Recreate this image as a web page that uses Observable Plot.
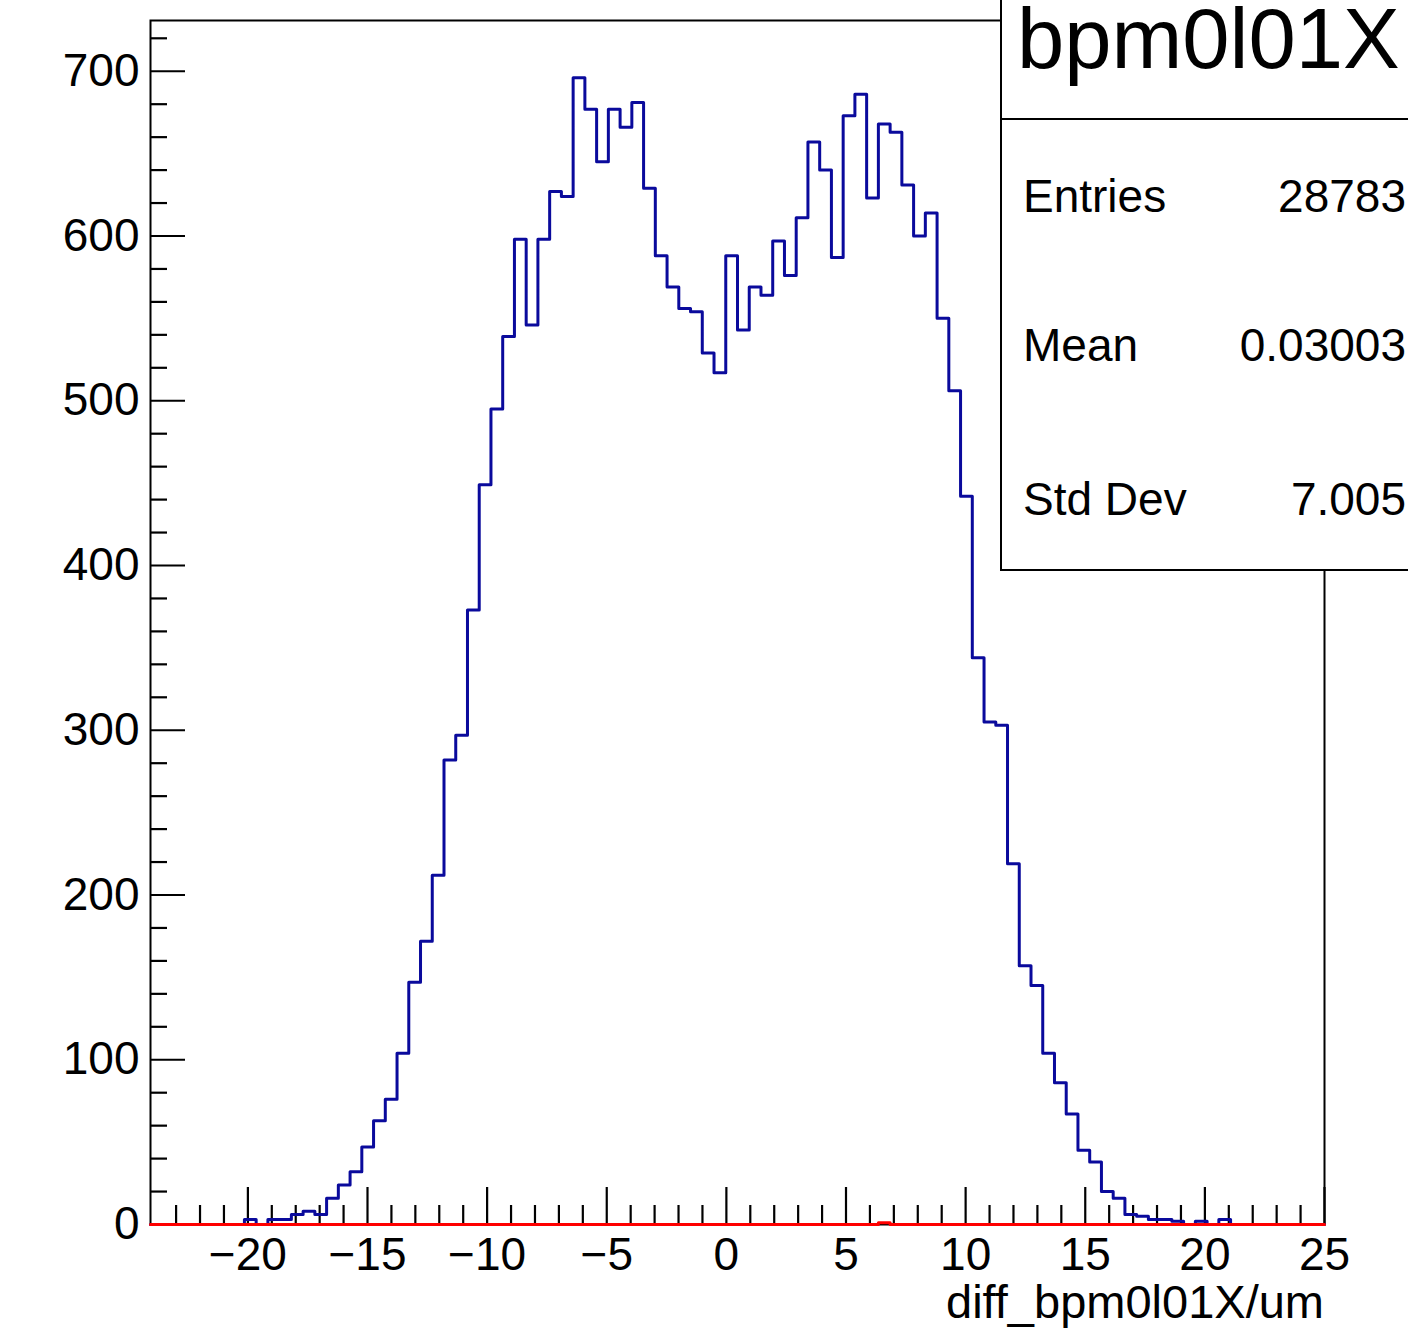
<!DOCTYPE html>
<html>
<head>
<meta charset="utf-8">
<script src="https://cdn.jsdelivr.net/npm/d3@7"></script>
<script src="https://cdn.jsdelivr.net/npm/@observablehq/plot@0.6"></script>
<style>
  html, body { margin: 0; padding: 0; background: #fff; overflow: hidden; }
  svg { display: block; overflow: hidden; }
</style>
</head>
<body>
<div id="chart"></div>
<script>
// ---- data ----
const binLow = -24.07;
const binHigh = 25.0;
const counts = [
  0, 0, 0, 0, 0, 0, 0, 0, 3, 0,
  3, 3, 6, 8, 6, 16, 24, 32, 47, 63,
  76, 104, 147, 172, 212, 282, 297, 373, 449, 495,
  539, 598, 546, 598, 627, 624, 696, 677, 645, 677,
  666, 681, 629, 588, 569, 556, 554, 529, 517, 588,
  543, 569, 564, 597, 576, 611, 657, 640, 587, 673,
  686, 623, 668, 663, 631, 600, 614, 550, 506, 442,
  344, 305, 303, 219, 157, 145, 104, 86, 67, 45,
  38, 20, 16, 6, 5, 3, 3, 2, 0, 2,
  0, 3, 0, 0, 0, 0, 0, 0, 0, 0
];
const cutCounts = [
  0, 0, 0, 0, 0, 0, 0, 0, 0, 0,
  0, 0, 0, 0, 0, 0, 0, 0, 0, 0,
  0, 0, 0, 0, 0, 0, 0, 0, 0, 0,
  0, 0, 0, 0, 0, 0, 0, 0, 0, 0,
  0, 0, 0, 0, 0, 0, 0, 0, 0, 0,
  0, 0, 0, 0, 0, 0, 0, 0, 0, 0,
  0, 0, 1, 0, 0, 0, 0, 0, 0, 0,
  0, 0, 0, 0, 0, 0, 0, 0, 0, 0,
  0, 0, 0, 0, 0, 0, 0, 0, 0, 0,
  0, 0, 0, 0, 0, 0, 0, 0, 0, 0
];
const xTicks = [-20, -15, -10, -5, 0, 5, 10, 15, 20, 25];
const xMinorTicks = [-23,-22,-21,-19,-18,-17,-16,-14,-13,-12,-11,-9,-8,-7,-6,-4,-3,-2,-1,1,2,3,4,6,7,8,9,11,12,13,14,16,17,18,19,21,22,23,24];
const yTicks = [0, 100, 200, 300, 400, 500, 600, 700];
const yMinorTicks = [20,40,60,80,120,140,160,180,220,240,260,280,320,340,360,380,420,440,460,480,520,540,560,580,620,640,660,680,720];
const histTitle = "bpm0l01X";
const statsLabels = ["Entries", "Mean", "Std Dev"];
const statsValues = ["28783", "0.03003", "7.005"];
const xTitle = "diff_bpm0l01X/um";

// ---- build ----
const W = 1408, H = 1335;
const mL = 150, mR = 84, mT = 20, mB = 111;
const plotW = W - mL - mR, plotH = H - mT - mB;
const binW = (binHigh - binLow) / counts.length;
function steps(arr) {
  const s = arr.map((c, i) => ({x: binLow + i * binW, y: c}));
  s.push({x: binHigh, y: arr[arr.length - 1]});
  return s;
}
const yMax = 1.05 * d3.max(counts);
const font = "'Liberation Sans', Arial, Helvetica, sans-serif";

const plot = Plot.plot({
  width: W, height: H,
  marginLeft: mL, marginRight: mR, marginTop: mT, marginBottom: mB,
  x: {domain: [binLow, binHigh]},
  y: {domain: [0, yMax]},
  style: {fontFamily: font, background: "white", color: "black"},
  marks: [
    Plot.frame({stroke: "black", strokeWidth: 2}),
    Plot.tickY(yMinorTicks, {y: d => d, insetRight: plotW - 17, stroke: "black", strokeWidth: 2.2}),
    Plot.tickY(yTicks, {y: d => d, insetRight: plotW - 35, stroke: "black", strokeWidth: 2.2}),
    Plot.tickX(xMinorTicks, {x: d => d, insetTop: plotH - 19, stroke: "black", strokeWidth: 2.2}),
    Plot.tickX(xTicks, {x: d => d, insetTop: plotH - 37, stroke: "black", strokeWidth: 2.2}),
    Plot.axisY({ticks: yTicks, tickSize: 0, tickPadding: 11, fontSize: 46, label: null}),
    Plot.axisX({ticks: xTicks, tickSize: 0, tickPadding: 13, fontSize: 46, label: null}),
    Plot.line(steps(counts), {x: "x", y: "y", curve: "step-after", stroke: "#0a0a9c", strokeWidth: 3}),
    Plot.line(steps(cutCounts), {x: "x", y: "y", curve: "step-after", stroke: "#ff0000", strokeWidth: 3})
  ]
});

const svg = d3.select(plot);
svg.style("overflow", "hidden");

// x axis title
svg.append("text")
  .attr("x", W - mR).attr("y", 1318)
  .attr("text-anchor", "end")
  .attr("font-family", font).attr("font-size", 47).attr("fill", "black")
  .text(xTitle);

// stats box
const g = svg.append("g").attr("font-family", font).attr("fill", "black").attr("text-anchor", "start");
g.append("rect").attr("x", 1001).attr("y", -10).attr("width", 440).attr("height", 580)
  .attr("fill", "white").attr("stroke", "black").attr("stroke-width", 2);
g.append("line").attr("x1", 1001).attr("x2", 1440).attr("y1", 119).attr("y2", 119)
  .attr("stroke", "black").attr("stroke-width", 2);
g.append("text").attr("x", 1017).attr("y", 68).attr("font-size", 85)
  .attr("text-anchor", "start").text(histTitle);
const baselines = [212, 361, 515];
statsLabels.forEach((lab, i) => {
  g.append("text").attr("x", 1023).attr("y", baselines[i]).attr("font-size", 46)
    .attr("text-anchor", "start").text(lab);
  g.append("text").attr("x", 1406).attr("y", baselines[i]).attr("font-size", 46)
    .attr("text-anchor", "end").text(statsValues[i]);
});

document.getElementById("chart").appendChild(plot);
</script>
</body>
</html>
